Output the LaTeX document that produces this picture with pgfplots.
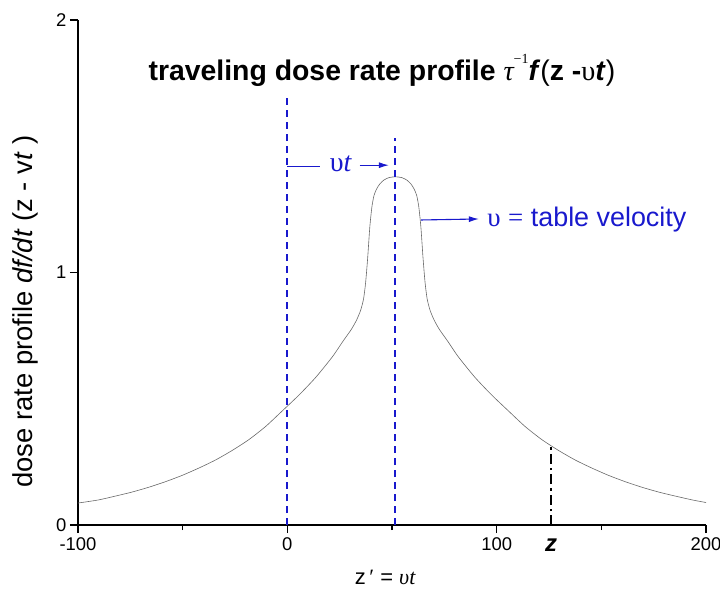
\documentclass[border=0pt]{standalone}
\usepackage{pgfplots}
\pgfplotsset{compat=1.18}
\usepackage{fontspec}
\setmainfont{Liberation Sans}
\newfontfamily\serif{Liberation Serif}
\usetikzlibrary{arrows.meta}
\definecolor{annblue}{RGB}{25,25,205}
\definecolor{curvegray}{RGB}{105,105,105}
\begin{document}
\begin{tikzpicture}
\useasboundingbox (-78bp,-80bp) rectangle (642bp,525bp);
\begin{axis}[
  scale only axis,
  width=628bp, height=505bp,
  at={(0,0)}, anchor=south west,
  xmin=-100, xmax=200, ymin=0, ymax=2,
  axis lines=left,
  axis line style={-, line width=1.2bp},
  xtick={-100,0,100,200}, xticklabels={-100,0,100,200},
  ytick={0,1,2}, yticklabels={0,1,2},
  minor xtick={-50,50,150},
  tick align=outside,
  major tick length=8bp, minor tick length=5bp,
  tick style={black, line width=1.2bp},
  tick label style={font=\fontsize{18.5}{22}\selectfont},
  xticklabel style={yshift=-1bp},
  clip=false,
]
% dose rate profile
\addplot[curvegray, line width=0.6bp, smooth, tension=0.4] coordinates {
(-100,0.087) (-90.4,0.099) (-82.4,0.114) (-74.4,0.130) (-66.4,0.149)
(-58.4,0.171) (-50.4,0.196) (-42.4,0.225) (-34.4,0.257) (-26.4,0.295)
(-18.4,0.338) (-10.4,0.390) (-2.4,0.452) (5.6,0.515) (13.6,0.585)
(21.6,0.667) (26.6,0.728) (30.6,0.775) (33.1,0.812) (35.0,0.850)
(36.4,0.895) (37.4,0.960) (38.4,1.060) (39.4,1.180) (40.4,1.260)
(41.4,1.305) (42.6,1.330) (44.1,1.350) (46.1,1.366) (48.6,1.376)
(51.6,1.379)
(54.6,1.376) (57.1,1.366) (59.1,1.350) (60.6,1.330) (61.8,1.305)
(62.8,1.260) (63.8,1.180) (64.8,1.060) (65.8,0.960) (66.8,0.895)
(68.2,0.850) (70.1,0.812) (72.6,0.775) (76.6,0.728) (81.6,0.667)
(89.6,0.585) (97.6,0.515) (105.6,0.452) (113.6,0.390) (121.6,0.338)
(129.6,0.295) (137.6,0.257) (145.6,0.225) (153.6,0.196) (161.6,0.171)
(169.6,0.149) (177.6,0.130) (185.6,0.114) (193.6,0.099) (200,0.089)
};
% reference lines
\addplot[draw=annblue, color=annblue, line width=1.8bp, dash pattern=on 7bp off 5bp] coordinates {(0,0) (0,1.703)};
\addplot[draw=annblue, color=annblue, line width=1.8bp, dash pattern=on 7bp off 5bp] coordinates {(51.6,0) (51.6,1.533)};
\addplot[black, line width=2.6bp, dash pattern=on 10bp off 4bp on 2.5bp off 4bp] coordinates {(126,0) (126,0.316)};
% annotations
\addplot[draw=annblue, line width=1.1bp] coordinates {(0,1.42) (15.8,1.42)};
\draw[annblue, line width=1.1bp, -{Latex[length=10bp,width=6bp]}] (axis cs:34.5,1.425) -- (axis cs:48.5,1.425);
\draw[annblue, line width=1.1bp, -{Latex[length=10bp,width=6bp]}] (axis cs:63.9,1.208) -- (axis cs:91.5,1.212);
\node[annblue, font=\fontsize{28}{30}\selectfont] at (axis cs:25.6,1.43) {{\serif υ\textit{t}}};
\node[annblue, anchor=west, font=\fontsize{27}{30}\selectfont, inner sep=0pt] at (axis cs:95.5,1.21) {{\serif υ} {\serif =} table velocity};
\node[font=\bfseries\fontsize{28.5}{32}\selectfont] at (axis cs:45.2,1.80)
  {traveling dose rate profile {\serif\mdseries\itshape τ}\raisebox{1.1ex}{\serif\mdseries\fontsize{14}{14}\selectfont −1}\textit{f}{\mdseries(}z -{\serif\mdseries υ}\textit{t}{\mdseries)}};
\node[font=\bfseries\itshape\fontsize{24}{28}\selectfont] at (axis cs:126,-0.08) {z};
\node[rotate=90, font=\fontsize{27.5}{30}\selectfont] at (axis cs:-125.3,0.845)
  {dose rate profile \textit{df/dt} (z - v\textit{t} )};
\node[font=\fontsize{22}{26}\selectfont] at (axis cs:46.7,-0.208) {z{\serif\,′} = {\serif\itshape υt}};
\end{axis}
\end{tikzpicture}
\end{document}
